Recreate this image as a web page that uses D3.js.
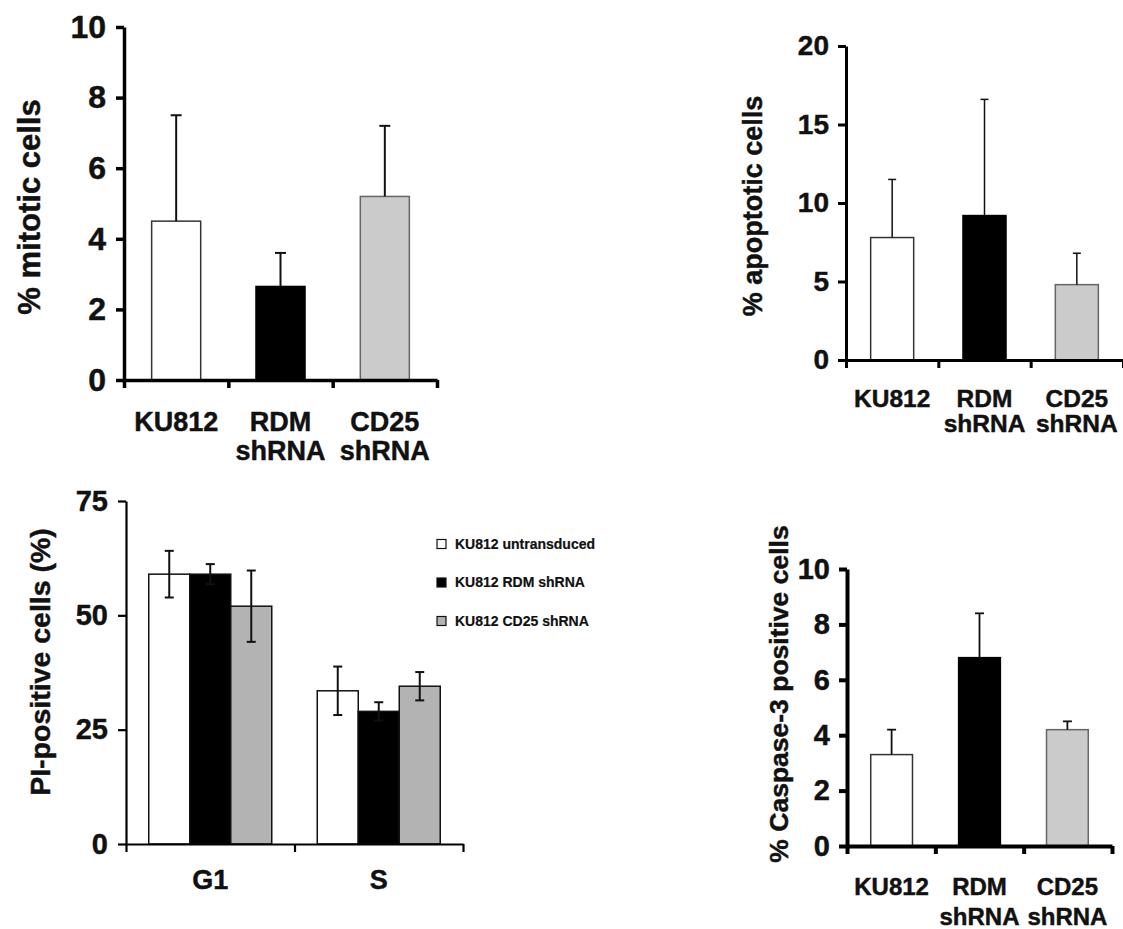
<!DOCTYPE html>
<html>
<head>
<meta charset="utf-8">
<script src="https://cdn.jsdelivr.net/npm/d3@7"></script>
<style>
  html, body { margin: 0; padding: 0; background: #fff; }
  svg text { font-family: "Liberation Sans", Arial, Helvetica, sans-serif; font-weight: bold; fill: #111; stroke: #111; stroke-width: 0.45px; }
</style>
</head>
<body>
<svg id="fig" width="1123" height="929"></svg>
<script>
// ---- data ----
const cellLines = ["KU812", "RDM shRNA", "CD25 shRNA"];
const cellLineLabels = [["KU812"], ["RDM", "shRNA"], ["CD25", "shRNA"]];
const barFills = ["#ffffff", "#000000", "#cbcbcb"];

const mitoticMean = [4.5, 2.65, 5.2];
const mitoticErr = [3.0, 0.95, 2.0];
const mitoticTicks = [0, 2, 4, 6, 8, 10];

const apoptoticMean = [7.8, 9.2, 4.8];
const apoptoticErr = [3.7, 7.4, 2.0];
const apoptoticTicks = [0, 5, 10, 15, 20];

const caspaseMean = [3.3, 6.8, 4.2];
const caspaseErr = [0.9, 1.6, 0.3];
const caspaseTicks = [0, 2, 4, 6, 8, 10];

const phases = ["G1", "S"];
const piSeries = ["KU812 untransduced", "KU812 RDM shRNA", "KU812 CD25 shRNA"];
const piFills = ["#ffffff", "#000000", "#b3b3b3"];
const piUntransduced = [59, 33.5];
const piUntransducedErr = [5.1, 5.3];
const piRdm = [59, 29];
const piRdmErr = [2.2, 2.0];
const piCd25 = [52, 34.5];
const piCd25Err = [7.8, 3.1];
const piTicks = [0, 25, 50, 75];

const svg = d3.select("#fig");

// Axes: y axis with outward ticks, x baseline with ticks at category boundaries
function drawAxes(g, o) {
  const y = o.y;
  const yAxis = d3.axisLeft(y).tickValues(o.ticks).tickSize(o.tickLen).tickPadding(o.tickPad).tickSizeOuter(0);
  const ya = g.append("g").attr("transform", `translate(${o.x0},0)`).call(yAxis);
  ya.select(".domain").attr("stroke", "#000").attr("stroke-width", o.axisW);
  ya.selectAll(".tick line").attr("stroke", "#000").attr("stroke-width", o.axisW);
  ya.selectAll(".tick text").style("font-size", o.tickFont + "px").attr("fill", "#111");

  const nb = o.nBands;
  const xb = d3.scaleLinear().domain([0, nb]).range([o.x0, o.x1]);
  const xAxis = d3.axisBottom(xb).tickValues(d3.range(nb + 1)).tickFormat("").tickSize(o.tickLen).tickSizeOuter(0);
  const xa = g.append("g").attr("transform", `translate(0,${y(0)})`).call(xAxis);
  xa.select(".domain").attr("stroke", "#000").attr("stroke-width", o.axisW);
  xa.selectAll(".tick line").attr("stroke", "#000").attr("stroke-width", o.axisW);
}

function yTitle(g, text, cx, cy, size) {
  g.append("text")
    .attr("transform", `translate(${cx},${cy}) rotate(-90)`)
    .attr("text-anchor", "middle")
    .attr("dy", "0.35em")
    .style("font-size", size + "px")
    .text(text);
}

// Single-series bar chart with upper error whiskers
function barPanel(o) {
  const g = svg.append("g");
  const y = d3.scaleLinear().domain([0, o.ticks[o.ticks.length - 1]]).range([o.yBottom, o.yTop]);
  const x = d3.scaleBand().domain(cellLines).range([o.x0, o.x1])
    .paddingInner(o.padIn).paddingOuter(o.padOut);

  const rows = cellLines.map((c, i) => ({ c, v: o.mean[i], e: o.err[i], fill: barFills[i] }));

  g.selectAll("rect.bar").data(rows).join("rect")
    .attr("class", "bar")
    .attr("x", d => x(d.c))
    .attr("y", d => y(d.v))
    .attr("width", x.bandwidth())
    .attr("height", d => y(0) - y(d.v))
    .attr("fill", d => d.fill)
    .attr("stroke", (d, i) => i === 1 ? "#000" : (i === 2 ? "#666" : "#333"))
    .attr("stroke-width", 1.5);

  const cx = d => x(d.c) + x.bandwidth() / 2;
  g.selectAll("line.err").data(rows).join("line")
    .attr("x1", cx).attr("x2", cx)
    .attr("y1", d => y(d.v)).attr("y2", d => y(d.v + d.e))
    .attr("stroke", "#111").attr("stroke-width", o.errW);
  g.selectAll("line.cap").data(rows).join("line")
    .attr("x1", d => cx(d) - o.cap / 2).attr("x2", d => cx(d) + o.cap / 2)
    .attr("y1", d => y(d.v + d.e)).attr("y2", d => y(d.v + d.e))
    .attr("stroke", "#111").attr("stroke-width", o.errW);

  drawAxes(g, { y, ticks: o.ticks, x0: o.x0, x1: o.x1, nBands: cellLines.length,
    tickLen: o.tickLen, tickPad: o.tickPad, axisW: o.axisW, tickFont: o.tickFont });

  cellLines.forEach((c, i) => {
    const t = g.append("text")
      .attr("text-anchor", "middle")
      .style("font-size", o.catFont + "px");
    cellLineLabels[i].forEach((line, k) => {
      t.append("tspan")
        .attr("x", x(c) + x.bandwidth() / 2)
        .attr("y", o.catY + k * o.catLine)
        .attr("dy", "0.35em")
        .text(line);
    });
  });

  yTitle(g, o.title, o.titleX, o.titleY, o.titleFont);
}

barPanel({
  mean: mitoticMean, err: mitoticErr, ticks: mitoticTicks,
  x0: 124, x1: 437, yTop: 27, yBottom: 380, padIn: 0.53, padOut: 0.265,
  tickLen: 8, tickPad: 10, axisW: 3.5, tickFont: 32, errW: 2, cap: 11,
  catFont: 27, catY: 422, catLine: 29,
  title: "% mitotic cells", titleX: 29, titleY: 207, titleFont: 31
});

barPanel({
  mean: apoptoticMean, err: apoptoticErr, ticks: apoptoticTicks,
  x0: 846, x1: 1123, yTop: 46, yBottom: 360, padIn: 0.534, padOut: 0.267,
  tickLen: 8, tickPad: 9, axisW: 3, tickFont: 28, errW: 1.5, cap: 8,
  catFont: 24.5, catY: 398, catLine: 25,
  title: "% apoptotic cells", titleX: 753, titleY: 206, titleFont: 27
});

barPanel({
  mean: caspaseMean, err: caspaseErr, ticks: caspaseTicks,
  x0: 847, x1: 1112, yTop: 569, yBottom: 846, padIn: 0.525, padOut: 0.27,
  tickLen: 8, tickPad: 9, axisW: 4, tickFont: 29, errW: 1.8, cap: 9,
  catFont: 24, catY: 887, catLine: 30,
  title: "% Caspase-3 positive cells", titleX: 779, titleY: 694, titleFont: 26.5
});

// ---- grouped PI panel ----
(function () {
  const g = svg.append("g");
  const x0 = 126, x1 = 463, yTop = 501, yBottom = 844;
  const y = d3.scaleLinear().domain([0, 75]).range([yBottom, yTop]);
  const xg = d3.scaleBand().domain(phases).range([x0, x1]).paddingInner(0.27).paddingOuter(0.135);
  const xs = d3.scaleBand().domain(piSeries).range([0, xg.bandwidth()]).padding(0);

  const means = [piUntransduced, piRdm, piCd25];
  const errs = [piUntransducedErr, piRdmErr, piCd25Err];
  const rows = [];
  phases.forEach((p, pi) => piSeries.forEach((s, si) =>
    rows.push({ p, s, si, v: means[si][pi], e: errs[si][pi] })));

  g.selectAll("rect.bar").data(rows).join("rect")
    .attr("x", d => xg(d.p) + xs(d.s))
    .attr("y", d => y(d.v))
    .attr("width", xs.bandwidth())
    .attr("height", d => y(0) - y(d.v))
    .attr("fill", d => piFills[d.si])
    .attr("stroke", "#111").attr("stroke-width", 1.5);

  const cx = d => xg(d.p) + xs(d.s) + xs.bandwidth() / 2;
  g.selectAll("line.err").data(rows).join("line")
    .attr("x1", cx).attr("x2", cx)
    .attr("y1", d => y(d.v - d.e)).attr("y2", d => y(d.v + d.e))
    .attr("stroke", "#111").attr("stroke-width", 2);
  [1, -1].forEach(sg => {
    g.selectAll(null).data(rows).join("line")
      .attr("x1", d => cx(d) - 4.5).attr("x2", d => cx(d) + 4.5)
      .attr("y1", d => y(d.v + sg * d.e)).attr("y2", d => y(d.v + sg * d.e))
      .attr("stroke", "#111").attr("stroke-width", 2);
  });

  drawAxes(g, { y, ticks: piTicks, x0, x1, nBands: phases.length,
    tickLen: 8, tickPad: 10, axisW: 2.2, tickFont: 29 });

  g.selectAll("text.cat").data(phases).join("text")
    .attr("x", d => xg(d) + xg.bandwidth() / 2)
    .attr("y", 880).attr("dy", "0.35em")
    .attr("text-anchor", "middle")
    .style("font-size", "27px")
    .text(d => d);

  yTitle(g, "PI-positive cells (%)", 40, 662, 28.5);

  // legend
  const leg = g.append("g");
  const legY = d3.scalePoint().domain(piSeries).range([544, 621]);
  leg.selectAll("rect").data(piSeries).join("rect")
    .attr("x", 437).attr("y", d => legY(d) - 4.5)
    .attr("width", 9).attr("height", 9)
    .attr("fill", (d, i) => piFills[i])
    .attr("stroke", "#111").attr("stroke-width", 1.2);
  leg.selectAll("text").data(piSeries).join("text")
    .attr("x", 455).attr("y", d => legY(d)).attr("dy", "0.35em")
    .style("font-size", "14px")
    .style("stroke-width", "0.2px")
    .text(d => d);
})();
</script>
</body>
</html>
